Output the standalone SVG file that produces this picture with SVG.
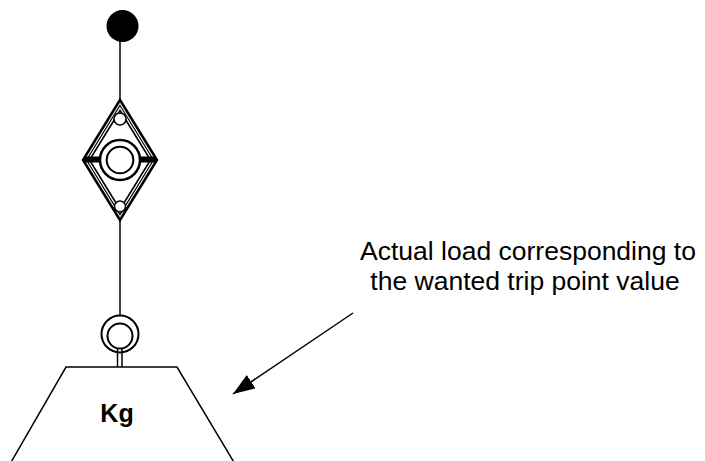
<svg xmlns="http://www.w3.org/2000/svg" width="705" height="461" viewBox="0 0 705 461">
<defs>
<style>
.ln{fill:none;stroke:#000;stroke-width:1.5}
.wc{fill:#fff;stroke:#000}
.lbl{font-family:"Liberation Sans",Arial,sans-serif;font-size:26.5px;fill:#000;text-anchor:middle}
.kg{font-family:"Liberation Sans",Arial,sans-serif;font-size:25px;font-weight:bold;fill:#000;text-anchor:middle}
</style>
<marker id="ah" markerUnits="userSpaceOnUse" markerWidth="24" markerHeight="18" refX="22" refY="8" orient="auto">
<path d="M0,0 L22,8 L0,16 Z" fill="#000"/>
</marker>
</defs>
<rect width="705" height="461" fill="#fff"/>
<g id="connectors">
<line class="ln" x1="120" y1="38" x2="120" y2="101"/>
<line class="ln" x1="120" y1="219" x2="120" y2="316"/>
<line class="ln" x1="353" y1="313" x2="233" y2="394" marker-end="url(#ah)"/>
</g>
<g id="anchor">
<circle cx="122.5" cy="26" r="16" fill="#000"/>
</g>
<g id="loadcell">
<path d="M120,100 L157,160 L120,220 L83,160 Z" fill="#fff" stroke="#000" stroke-width="2.5"/>
<path d="M120,105.5 L153.5,160 L120,214.5 L86.5,160 Z" fill="none" stroke="#000" stroke-width="1.2"/>
<path d="M120,110.5 L150.5,160 L120,209.5 L89.5,160 Z" fill="none" stroke="#000" stroke-width="1.6"/>
<rect x="84" y="156.5" width="18" height="6" fill="#000"/>
<rect x="138" y="156.5" width="18" height="6" fill="#000"/>
<circle class="wc" cx="120" cy="160" r="20" stroke-width="2.5"/>
<circle class="wc" cx="120" cy="160" r="13.3" stroke-width="2"/>
<circle class="wc" cx="120" cy="119" r="6" stroke-width="1.5"/>
<circle class="wc" cx="120" cy="206.5" r="5.5" stroke-width="1.5"/>
</g>
<g id="weight">
<circle class="wc" cx="120" cy="334" r="18.5" stroke-width="2"/>
<circle class="wc" cx="120" cy="336" r="12.5" stroke-width="2"/>
<line class="ln" x1="117.5" y1="348" x2="117.5" y2="367"/>
<line class="ln" x1="122" y1="348" x2="122" y2="367"/>
<path class="ln" d="M10,464 L66,367 L177,367 L235,464"/>
<text class="kg" x="117" y="422">Kg</text>
</g>
<g id="label">
<text class="lbl" x="528" y="260">Actual load corresponding to</text>
<text class="lbl" x="525" y="290">the wanted trip point value</text>
</g>
</svg>
